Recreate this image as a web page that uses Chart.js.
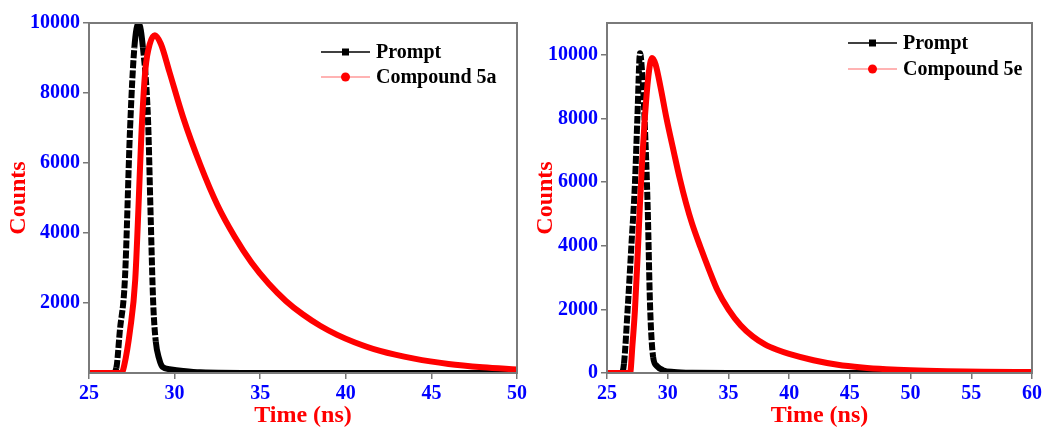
<!DOCTYPE html>
<html>
<head>
  <title>Fluorescence decay</title>
  <script src="https://cdn.jsdelivr.net/npm/chart.js"></script>
  <style>
    body { margin: 0; background: #fff; }
    canvas { position: absolute; top: 0; }
  </style>
</head>
<body>
  <canvas id="decayA" width="530" height="435" style="left:0"></canvas>
  <canvas id="decayB" width="518" height="435" style="left:530px"></canvas>

  <script>
    // panel A: prompt vs compound 5a
    const timePromptA = [25, 26.4, 26.6, 26.8, 27.1, 27.4, 27.65, 27.9, 28.15, 28.45, 28.6, 28.75, 28.9, 29.1, 29.3, 29.7, 30.5, 31.5, 35, 40, 45, 50];
    const countsPromptA = [0, 0, 150, 1200, 2700, 7000, 9300, 10000, 9300, 7200, 4500, 2000, 900, 400, 170, 110, 60, 20, 0, 0, 0, 0];
    const time5a = [25, 26.9, 27.05, 27.4, 27.7, 28.1, 28.3, 28.55, 28.85, 29.2, 29.7, 30.5, 31.5, 32.5, 33.5, 34.5, 35.5, 36.5, 37.5, 38.5, 39.5, 40.5, 42, 44, 46, 48, 50];
    const counts5a = [0, 0, 200, 1230, 2660, 7200, 8700, 9400, 9650, 9400, 8600, 7300, 5950, 4800, 3900, 3150, 2550, 2060, 1670, 1350, 1090, 880, 630, 410, 260, 165, 100];
    const xTicksA = [25, 30, 35, 40, 45, 50];
    const yTicksA = [2000, 4000, 6000, 8000, 10000];

    // panel B: prompt vs compound 5e
    const timePromptB = [25, 26.2, 26.4, 26.7, 27.0, 27.3, 27.5, 27.72, 27.9, 28.1, 28.35, 28.55, 28.8, 29.1, 29.6, 30.5, 32, 35, 40, 45, 50, 55, 60];
    const countsPromptB = [0, 0, 300, 2000, 3950, 5950, 8000, 10050, 9400, 7930, 5200, 2070, 500, 220, 90, 30, 5, 0, 0, 0, 0, 0, 0];
    const time5e = [25, 26.9, 27.1, 27.3, 27.5, 27.7, 27.9, 28.1, 28.4, 28.7, 29.0, 29.4, 29.9, 30.5, 31.0, 31.5, 32.0, 32.7, 33.4, 34.1, 35, 36, 37, 38, 39, 40, 42, 44, 46, 48, 50, 53, 56, 60];
    const counts5e = [0, 0, 900, 1970, 3500, 5200, 6700, 7930, 9300, 9900, 9700, 9000, 8000, 6950, 6100, 5350, 4700, 3950, 3250, 2600, 2000, 1500, 1150, 900, 730, 600, 400, 260, 175, 120, 85, 55, 40, 30];
    const xTicksB = [25, 30, 35, 40, 45, 50, 55, 60];
    const yTicksB = [0, 2000, 4000, 6000, 8000, 10000];

    Chart.defaults.font.family = 'Liberation Serif';

    function pairs(xs, ys) {
      return xs.map((x, i) => ({ x: x, y: ys[i] }));
    }

    // grey box round the plot area
    const frame = {
      id: 'frame',
      afterDraw(chart) {
        const a = chart.chartArea, ctx = chart.ctx;
        ctx.save();
        ctx.strokeStyle = '#7a7a7a';
        ctx.lineWidth = 2;
        ctx.strokeRect(a.left, a.top, a.right - a.left, a.bottom - a.top);
        ctx.restore();
      }
    };

    // origin-style legend: short line with the marker in its middle
    const seriesLegend = {
      id: 'seriesLegend',
      afterDraw(chart, args, opts) {
        const ctx = chart.ctx, a = chart.chartArea;
        const x0 = a.right - opts.right, y0 = a.top + opts.top;
        chart.data.datasets.forEach((ds, i) => {
          const y = y0 + i * opts.gap;
          ctx.save();
          ctx.strokeStyle = ds.legendLine;
          ctx.lineWidth = 1.5;
          ctx.beginPath();
          ctx.moveTo(x0, y);
          ctx.lineTo(x0 + 49, y);
          ctx.stroke();
          ctx.fillStyle = ds.borderColor;
          if (ds.marker === 'rect') {
            ctx.fillRect(x0 + 21, y - 3.5, 7, 7);
          } else {
            ctx.beginPath();
            ctx.arc(x0 + 24.5, y, 4.5, 0, Math.PI * 2);
            ctx.fill();
          }
          ctx.fillStyle = '#000';
          ctx.font = 'bold 20px "Liberation Serif"';
          ctx.textBaseline = 'middle';
          ctx.fillText(ds.label, x0 + 55, y + 1);
          ctx.restore();
        });
      }
    };

    const tickFont = { size: 20, weight: 'bold' };
    const titleFont = { size: 24, weight: 'bold' };

    function decayChart(id, prompt, compound, compoundLabel, xTicks, yTicks, yMax, yWidth, padRight, titlePad, legendPos) {
      return new Chart(document.getElementById(id), {
        type: 'line',
        data: {
          datasets: [
            {
              label: 'Prompt',
              data: prompt,
              borderColor: '#000000',
              legendLine: '#000000',
              marker: 'rect',
              borderWidth: 6,
              pointRadius: 0,
              cubicInterpolationMode: 'monotone',
              order: 2,
              segment: {
                borderDash: ctx => Math.abs(ctx.p1.parsed.y - ctx.p0.parsed.y) / (ctx.p1.parsed.x - ctx.p0.parsed.x) > 3000 ? [8, 2] : undefined
              }
            },
            {
              label: compoundLabel,
              data: compound,
              borderColor: '#ff0000',
              legendLine: '#ff9a9a',
              marker: 'circle',
              borderWidth: 6,
              pointRadius: 0,
              cubicInterpolationMode: 'monotone',
              order: 1
            }
          ]
        },
        options: {
          responsive: false,
          animation: false,
          layout: { padding: { top: 23, right: padRight, left: 0, bottom: 0 } },
          plugins: {
            legend: { display: false },
            tooltip: { enabled: false },
            seriesLegend: legendPos
          },
          scales: {
            x: {
              type: 'linear',
              min: xTicks[0],
              max: xTicks[xTicks.length - 1],
              ticks: { color: '#0000ff', font: tickFont, padding: 3, callback: v => String(v) },
              grid: { drawOnChartArea: false, tickLength: 6, color: '#777', lineWidth: 1.5 },
              border: { color: '#777', width: 2 },
              title: { display: true, text: 'Time (ns)', color: '#ff0000', font: titleFont, padding: { top: 0, bottom: 5 } },
              afterBuildTicks: s => { s.ticks = xTicks.map(v => ({ value: v })); },
              afterFit: s => { s.height = 62; }
            },
            y: {
              min: 0,
              max: yMax,
              ticks: { color: '#0000ff', font: tickFont, padding: 3, callback: v => String(v) },
              grid: { drawOnChartArea: false, tickLength: 6, color: '#777', lineWidth: 1.5 },
              border: { color: '#777', width: 2 },
              title: { display: true, text: 'Counts', color: '#ff0000', font: titleFont, padding: { top: titlePad, bottom: 0 } },
              afterBuildTicks: s => { s.ticks = yTicks.map(v => ({ value: v })); },
              afterFit: s => { s.width = yWidth; }
            }
          }
        },
        plugins: [frame, seriesLegend]
      });
    }

    decayChart('decayA', pairs(timePromptA, countsPromptA), pairs(time5a, counts5a), 'Compound 5a',
      xTicksA, yTicksA, 10000, 89, 13, 4, { right: 196, top: 29, gap: 25 });
    decayChart('decayB', pairs(timePromptB, countsPromptB), pairs(time5e, counts5e), 'Compound 5e',
      xTicksB, yTicksB, 11000, 77, 16, 1, { right: 184, top: 20, gap: 26 });
  </script>
</body>
</html>
